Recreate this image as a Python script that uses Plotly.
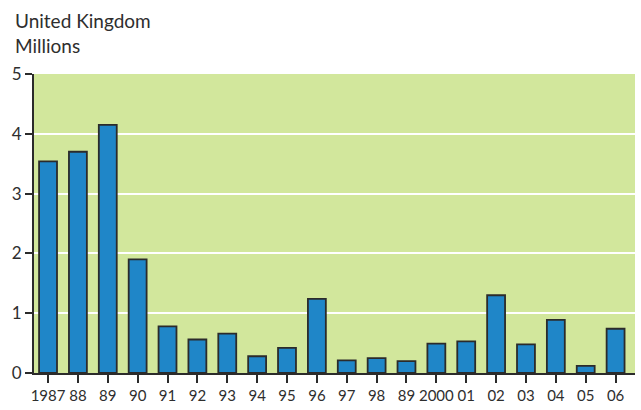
import plotly.graph_objects as go

years = list(range(1987, 2007))
tick_labels = ["1987", "88", "89", "90", "91", "92", "93", "94", "95", "96",
               "97", "98", "89", "2000", "01", "02", "03", "04", "05", "06"]
values = [3.54, 3.70, 4.15, 1.90, 0.78, 0.56, 0.66, 0.28, 0.42, 1.24,
          0.21, 0.25, 0.20, 0.49, 0.53, 1.30, 0.48, 0.89, 0.12, 0.74]

fig = go.Figure()
fig.add_trace(go.Bar(
    x=years, y=values, width=0.6,
    marker=dict(color="#1f86c8", line=dict(color="#2b2b2b", width=1.8)),
))

fig.update_layout(
    width=641, height=410,
    margin=dict(l=34, r=6, t=74, b=30),
    paper_bgcolor="white", plot_bgcolor="#d2e79c",
    showlegend=False,
    font=dict(family="Lato, sans-serif", color="#2e2e2e", size=16),
    annotations=[dict(
        text="United Kingdom<br>Millions", xref="paper", yref="paper",
        x=-0.035, y=1.0, xanchor="left", yanchor="bottom", yshift=15,
        showarrow=False, align="left", font=dict(size=19, color="#2e2e2e"),
    )],
)
fig.update_xaxes(
    range=[1986.53, 2006.65], tickmode="array", tickvals=years, ticktext=tick_labels,
    showgrid=False, showline=True, linecolor="#2b2b2b", linewidth=2,
    ticks="outside", ticklen=8, tickwidth=2, tickcolor="#2b2b2b",
    tickson="boundaries", tickfont=dict(size=15), zeroline=False,
)
fig.update_yaxes(
    range=[0, 5], tickvals=[0, 1, 2, 3, 4, 5],
    showgrid=True, gridcolor="white", gridwidth=2,
    showline=True, linecolor="#2b2b2b", linewidth=2,
    ticks="outside", ticklen=7, tickwidth=2, tickcolor="#2b2b2b",
    tickfont=dict(size=17), zeroline=False,
)

fig.write_html("out.html")
